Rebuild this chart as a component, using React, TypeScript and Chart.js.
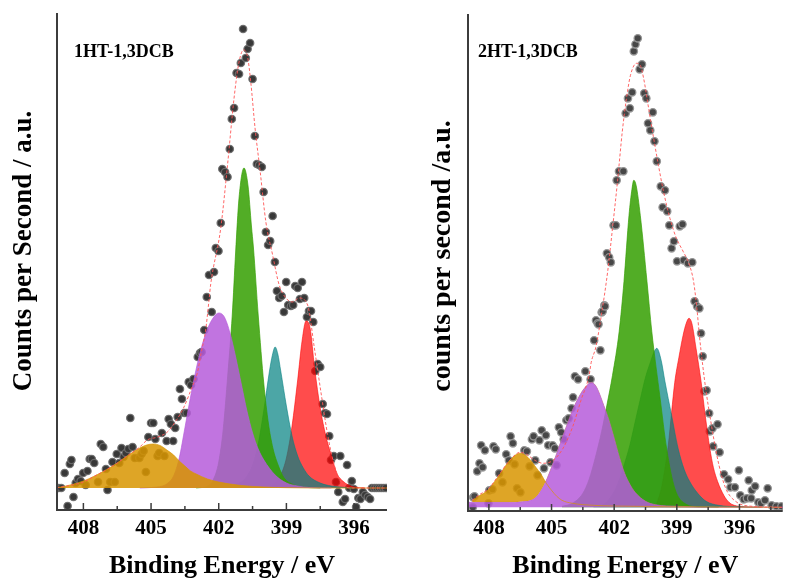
import React, { useEffect, useRef } from 'react';
import { Chart, registerables } from 'chart.js';

Chart.register(...registerables);

type Pair = [number, number];

const FONT = "'Liberation Serif', 'Times New Roman', serif";

// ---------- shared axis ticks (binding energy, eV) ----------
const TICK_VALUES = [409.5, 408, 406.5, 405, 403.5, 402, 400.5, 399, 397.5, 396, 394.5];
const MAJOR_LABELS = [408, 405, 402, 399, 396];
const X_TITLE = 'Binding Energy / eV';

// ---------- panel 1 : 1HT-1,3DCB ----------
const P1_LABEL = '1HT-1,3DCB';
const P1_YTITLE = 'Counts per Second / a.u.';
const P1_SCATTER: Pair[] = [
  [409.1, 0], [408.98, 0], [408.83, 15], [408.7, -18], [408.6, 24], [408.53, 28], [408.44, -9], [408.34, 5],
  [408.24, 9], [408.12, 7], [408.01, 15], [407.9, 3], [407.82, 17], [407.72, 29], [407.63, 29], [407.52, 25],
  [407.35, 6], [407.23, 44], [407.12, 41], [407.0, 19], [406.93, -2], [406.81, 6], [406.71, 26], [406.61, 6],
  [406.52, 34], [406.41, 25], [406.31, 40], [406.22, 31], [406.12, 35], [406.01, 39], [405.92, 70], [405.82, 41],
  [405.72, 30], [405.52, 30], [405.42, 34], [405.33, 37], [405.23, 16], [405.12, 51], [405.0, 65], [404.9, 65],
  [404.81, 49], [404.71, 32], [404.64, 35], [404.52, 55], [404.41, 32], [404.31, 47], [404.22, 69], [404.12, 64],
  [404.02, 47], [403.93, 60], [403.82, 71], [403.72, 99], [403.63, 89], [403.52, 75], [403.42, 75], [403.33, 106],
  [403.23, 103], [403.12, 109], [402.93, 131], [402.83, 135], [402.76, 136], [402.64, 158], [402.53, 191], [402.43, 213],
  [402.31, 176], [402.21, 216], [402.13, 240], [402.01, 237], [401.91, 265], [401.84, 319], [401.72, 316], [401.61, 311],
  [401.51, 339], [401.42, 369], [401.32, 380], [401.21, 415], [401.1, 414], [401.02, 425], [400.92, 459], [400.8, 430],
  [400.72, 439], [400.61, 445], [400.5, 409], [400.4, 352], [400.31, 324], [400.21, 323], [400.09, 321], [400.01, 296],
  [399.91, 256], [399.81, 243], [399.72, 247], [399.61, 272], [399.51, 226], [399.42, 197], [399.32, 190], [399.21, 192],
  [399.11, 176], [399.01, 206], [398.92, 183], [398.8, 182], [398.7, 183], [398.61, 202], [398.5, 200], [398.4, 189],
  [398.31, 206], [398.21, 190], [398.09, 171], [398.0, 177], [397.91, 177], [397.81, 166], [397.72, 117], [397.61, 124],
  [397.5, 121], [397.39, 84], [397.29, 75], [397.2, 74], [397.1, 52], [397.02, 28], [396.9, 32], [396.8, 6],
  [396.7, -4], [396.61, 32], [396.5, -14], [396.4, -11], [396.31, 23], [396.21, 0], [396.1, 7], [396.01, -1],
  [395.91, -19], [395.81, -10], [395.72, -11], [395.61, -4], [395.51, -7], [395.39, -9], [395.29, -11], [395.21, 0],
  [395.1, 0], [395.0, 0], [394.9, 0], [394.8, 0], [394.7, 0], [394.6, 0],
];
const P1_FIT: Pair[] = [
  [409.2, 0], [409, 1], [408.5, 3], [408, 6], [407.5, 12], [407, 18], [406.5, 25], [406, 33], [405.5, 41],
  [405.17, 48], [404.7, 51], [404.28, 56], [403.9, 67], [403.54, 81], [403.2, 100], [402.95, 115], [402.78, 135],
  [402.58, 158], [402.43, 188], [402.36, 203], [401.91, 260], [401.61, 323], [401.32, 390], [401.1, 426], [400.9, 438],
  [400.72, 431], [400.58, 406], [400.39, 360], [400.16, 316], [399.91, 266], [399.61, 233], [399.32, 203], [399.02, 190],
  [398.73, 186], [398.43, 190], [398.06, 183], [397.76, 140], [397.47, 96], [397.17, 53], [396.88, 23], [396.58, 6],
  [396.1, 0], [394.5, 0],
];
const P1_YELLOW: Pair[] = [
  [409.2, 0.5], [409, 1], [408.5, 3.5], [408, 7], [407.5, 12], [407, 18], [406.5, 25], [406, 33], [405.5, 40],
  [405.2, 43], [404.9, 44], [404.6, 42.5], [404.3, 38], [404, 33], [403.75, 27], [403.5, 22], [403.25, 17], [403, 14],
  [402.5, 9], [402, 6], [401.5, 4], [401, 2.5], [400, 1], [399, 0.3], [397, 0], [394.5, 0],
];
const P1_PURPLE: Pair[] = [
  [405.5, 0], [405, 0.5], [404.5, 2], [404.25, 5], [404, 12], [403.75, 30], [403.5, 60], [403.25, 91], [403, 119],
  [402.75, 142], [402.5, 159], [402.25, 170], [402, 175], [401.75, 171], [401.5, 155], [401.25, 131], [401, 104],
  [400.75, 77], [400.5, 55], [400.25, 39], [400, 28], [399.5, 13], [399, 5], [398.5, 2], [398, 0.5], [397, 0],
];
const P1_GREEN: Pair[] = [
  [403, 0], [402.5, 2], [402.25, 8], [402, 26], [401.8, 59], [401.6, 113], [401.4, 173], [401.25, 236], [401.1, 290],
  [400.88, 320], [400.7, 302], [400.55, 262], [400.46, 240], [400.25, 173], [400, 104], [399.8, 65], [399.6, 40],
  [399.35, 22], [399.1, 10], [398.75, 4], [398.25, 1], [397.5, 0],
];
const P1_TEAL: Pair[] = [
  [402, 1], [401.5, 3], [401, 6], [400.75, 12], [400.5, 23], [400.25, 44], [400, 78], [399.75, 117], [399.62, 133],
  [399.5, 141], [399.38, 134], [399.25, 117], [399, 82], [398.75, 52], [398.5, 32], [398.25, 20], [398, 12],
  [397.5, 5], [397, 2], [396, 0],
];
const P1_RED: Pair[] = [
  [399.75, 2], [399.5, 5], [399.25, 13], [399, 30], [398.75, 62], [398.5, 108], [398.3, 148], [398.13, 167],
  [397.95, 160], [397.75, 120], [397.5, 80], [397.25, 52], [397, 32], [396.75, 14], [396.5, 7], [396.25, 3], [396, 1], [395.5, 0],
];

// ---------- panel 2 : 2HT-1,3DCB ----------
const P2_LABEL = '2HT-1,3DCB';
const P2_YTITLE = 'counts per second /a.u.';
const P2_SCATTER: Pair[] = [
  [408.77, 0], [408.75, 10], [408.69, 11], [408.56, 36], [408.45, 44], [408.37, 62], [408.3, 40], [408.19, 57],
  [408.02, 4], [407.98, 17], [407.83, 18], [407.78, 61], [407.67, 58], [407.51, 34], [407.35, 25], [407.17, 53],
  [407.04, 47], [406.96, 71], [406.85, 64], [406.77, 43], [406.65, 19], [406.49, 15], [406.3, 57], [406.18, 56],
  [406.05, 41], [405.94, 68], [405.86, 71], [405.78, 47], [405.67, 32], [405.58, 67], [405.47, 77], [405.36, 39],
  [405.27, 72], [405.16, 62], [405.05, 45], [404.95, 62], [404.84, 59], [404.76, 42], [404.65, 80], [404.54, 75],
  [404.42, 68], [404.29, 87], [404.18, 89], [404.04, 99], [403.97, 110], [403.88, 131], [403.73, 128], [403.38, 136],
  [403.13, 128], [402.96, 167], [402.87, 187], [402.79, 184], [402.75, 183], [402.66, 157], [402.6, 195], [402.55, 196],
  [402.47, 202], [402.44, 201], [402.35, 254], [402.24, 250], [402.16, 245], [402.03, 282], [401.92, 282], [401.88, 327],
  [401.77, 336], [401.56, 336], [401.45, 394], [401.34, 409], [401.25, 399], [401.14, 415], [401.06, 456], [400.98, 463],
  [400.87, 469], [400.78, 438], [400.67, 443], [400.56, 414], [400.46, 409], [400.38, 384], [400.27, 377], [400.15, 395],
  [400.07, 366], [399.96, 346], [399.77, 321], [399.68, 300], [399.57, 317], [399.46, 296], [399.36, 282], [399.25, 259],
  [399.14, 266], [398.99, 246], [398.86, 281], [398.73, 283], [398.67, 247], [398.47, 244], [398.26, 245], [398.15, 206],
  [398.03, 201], [397.92, 199], [397.84, 174], [397.76, 151], [397.68, 116], [397.57, 117], [397.45, 94], [397.42, 76],
  [397.29, 79], [397.26, 61], [397.05, 83], [396.95, 55], [396.74, 33], [396.54, 28], [396.43, 20], [396.22, 20],
  [396.03, 37], [395.96, 12], [395.8, 8], [395.64, 9], [395.56, 27], [395.44, 9], [395.41, 17], [395.25, 21],
  [395.1, 5], [394.97, 4], [394.78, 7], [394.65, 19], [394.46, 2], [394.23, 1], [393.99, 1],
];
const P2_FIT: Pair[] = [
  [408.8, 7], [408.5, 12], [408, 19], [407.5, 33], [407, 47], [406.5, 55], [406.2, 53], [405.8, 47], [405.4, 44],
  [404.92, 47], [404.45, 59], [403.98, 81], [403.59, 107], [403.2, 132], [403.1, 145], [402.88, 160], [402.63, 190],
  [402.31, 236], [402.08, 279], [401.84, 326], [401.61, 376], [401.41, 409], [401.22, 432], [400.93, 444], [400.75, 442],
  [400.59, 429], [400.35, 399], [400.11, 369], [399.88, 342], [399.64, 316], [399.33, 289], [399.02, 269], [398.7, 256],
  [398.39, 242], [398.2, 226], [398.04, 199], [397.92, 172], [397.76, 142], [397.6, 116], [397.42, 92], [397.21, 66],
  [396.98, 42], [396.66, 19], [396.19, 6], [395.4, 1], [393.9, 0],
];
const P2_YELLOW: Pair[] = [
  [408.8, 6.6], [408.5, 11], [408.25, 14], [408, 18], [407.75, 25], [407.5, 32], [407.25, 40], [407, 47], [406.75, 52],
  [406.5, 54], [406.25, 52], [406, 47], [405.75, 40], [405.5, 33], [405.25, 24], [405, 17], [404.75, 11], [404.5, 7],
  [404, 4], [403, 2], [401, 1], [399, 0.5], [394, 0],
];
const P2_PURPLE: Pair[] = [
  [409, 5], [408, 5], [407, 5], [406.5, 5.5], [406, 7], [405.75, 10], [405.5, 17], [405.25, 27], [405, 40], [404.75, 54],
  [404.5, 69], [404.25, 83], [404, 97], [403.75, 108], [403.5, 117], [403.25, 123], [403.1, 125], [402.9, 122],
  [402.75, 116], [402.5, 102], [402.25, 87], [402, 69], [401.75, 50], [401.5, 34], [401.25, 23], [401, 15], [400.5, 6],
  [400, 2.5], [399, 1], [397, 0], [393.9, 0],
];
const P2_GREEN: Pair[] = [
  [404.5, 1], [404, 4], [403.5, 14], [403.2, 28], [402.9, 50], [402.6, 76], [402.35, 102], [402.08, 132], [401.76, 176],
  [401.53, 226], [401.29, 292], [401.15, 318], [401.06, 327], [400.95, 322], [400.75, 292], [400.43, 226], [400.2, 176],
  [399.8, 109], [399.49, 59], [399.1, 19], [398.55, 3], [398, 0.5], [397, 0],
];
const P2_TEAL: Pair[] = [
  [403, 1], [402.5, 3], [402, 16], [401.75, 28], [401.5, 44], [401.25, 62], [401, 85], [400.75, 108], [400.5, 130],
  [400.25, 146], [400.1, 155], [399.96, 159], [399.75, 147], [399.57, 126], [399.25, 92], [398.94, 59], [398.65, 38],
  [398.39, 26], [398, 14], [397.6, 6], [397, 2], [396, 0.5], [395, 0],
];
const P2_RED: Pair[] = [
  [400.5, 0.5], [400, 3], [399.88, 9], [399.75, 18], [399.6, 35], [399.41, 62], [399.25, 95], [399.1, 125], [398.9, 150],
  [398.7, 172], [398.55, 184], [398.42, 189], [398.28, 184], [398.08, 159], [397.84, 126], [397.64, 92], [397.42, 59],
  [397.25, 40], [397.05, 26], [396.75, 12], [396.5, 5], [396.25, 2], [396, 1], [395, 0],
];

// ---------- styles ----------
const C_YELLOW = 'rgba(216,149,0,0.85)';
const C_PURPLE = 'rgba(182,92,219,0.85)';
const C_GREEN = 'rgba(52,159,0,0.85)';
const C_TEAL = 'rgba(0,128,128,0.7)';
const C_RED = 'rgba(255,0,0,0.7)';

interface Panel {
  label: string;
  yTitle: string;
  scatter: Pair[];
  fit: Pair[];
  yellow: Pair[];
  purple: Pair[];
  green: Pair[];
  teal: Pair[];
  red: Pair[];
  yellowOnPurple: boolean;
  xMin: number; xMax: number; yMin: number; yMax: number;
  padTop: number; padRight: number; yAxisWidth: number; xAxisHeight: number;
  tickPad: number; labelDx: number; labelY: number;
  yTitleX: number; yTitleY: number; yTitleSize: number;
  dotFill: string; dotEdge: string;
}

const PANEL1: Panel = {
  label: P1_LABEL, yTitle: P1_YTITLE, scatter: P1_SCATTER, fit: P1_FIT,
  yellow: P1_YELLOW, purple: P1_PURPLE, green: P1_GREEN, teal: P1_TEAL, red: P1_RED, yellowOnPurple: false,
  xMin: 394.54, xMax: 409.17, yMin: -22, yMax: 475,
  padTop: 13, padRight: 13, yAxisWidth: 57, xAxisHeight: 70,
  tickPad: 8.5, labelDx: 17, labelY: 56.5,
  yTitleX: 24, yTitleY: 251, yTitleSize: 27,
  dotFill: '#383838', dotEdge: 'rgba(110,110,110,0.9)',
};
const PANEL2: Panel = {
  label: P2_LABEL, yTitle: P2_YTITLE, scatter: P2_SCATTER, fit: P2_FIT,
  yellow: P2_YELLOW, purple: P2_PURPLE, green: P2_GREEN, teal: P2_TEAL, red: P2_RED, yellowOnPurple: true,
  xMin: 393.93, xMax: 409.0, yMin: -3.7, yMax: 493.3,
  padTop: 14, padRight: 0, yAxisWidth: 68, xAxisHeight: 69,
  tickPad: 7.5, labelDx: 10, labelY: 56.5,
  yTitleX: 43, yTitleY: 256, yTitleSize: 28,
  dotFill: '#474747', dotEdge: 'rgba(150,150,150,0.95)',
};

const pts = (arr: Pair[]) => arr.map(([x, y]) => ({ x, y }));

const decorPlugin = {
  id: 'xpsDecor',
  afterDraw(chart: any, _args: any, opts: any) {
    const { ctx, chartArea } = chart;
    const { left, right, top, bottom } = chartArea;
    const xs = chart.scales.x;
    ctx.save();
    ctx.strokeStyle = '#3c3c3c';
    ctx.lineWidth = 2;
    ctx.beginPath();
    ctx.moveTo(left, top);
    ctx.lineTo(left, bottom);
    ctx.lineTo(right, bottom);
    ctx.stroke();
    ctx.lineWidth = 1.5;
    for (const t of xs.ticks) {
      const px = xs.getPixelForValue(t.value);
      const len = MAJOR_LABELS.includes(t.value) ? 7 : 4;
      ctx.beginPath();
      ctx.moveTo(px, bottom);
      ctx.lineTo(px, bottom - len);
      ctx.stroke();
    }
    ctx.fillStyle = '#000';
    ctx.font = `bold 18px ${FONT}`;
    ctx.textAlign = 'left';
    ctx.textBaseline = 'alphabetic';
    ctx.fillText(opts.label, left + opts.labelDx, opts.labelY);
    ctx.translate(opts.yTitleX, opts.yTitleY);
    ctx.rotate(-Math.PI / 2);
    ctx.font = `bold ${opts.yTitleSize}px ${FONT}`;
    ctx.textAlign = 'center';
    ctx.textBaseline = 'middle';
    ctx.fillText(opts.yTitle, 0, 0);
    ctx.restore();
  },
};

function comp(arr: Pair[], color: string, order: number, fill: any) {
  return {
    data: pts(arr),
    borderColor: color,
    backgroundColor: color,
    borderWidth: 0.8,
    pointRadius: 0,
    fill,
    order,
    cubicInterpolationMode: 'monotone',
  };
}

function makeChart(canvas: HTMLCanvasElement, p: Panel) {
  const datasets: any[] = [
    {
      data: pts(p.fit),
      borderColor: 'rgba(255,85,85,0.9)',
      borderWidth: 1,
      borderDash: [3, 2],
      pointRadius: 0,
      fill: false,
      order: 0,
      cubicInterpolationMode: 'monotone',
    },
    comp(p.yellow, C_YELLOW, 1,
      p.yellowOnPurple ? { target: 2, above: C_YELLOW, below: 'rgba(0,0,0,0)' } : 'origin'),
    comp(p.purple, C_PURPLE, 2, 'origin'),
    comp(p.green, C_GREEN, 3, 'origin'),
    comp(p.teal, C_TEAL, 4, 'origin'),
    comp(p.red, C_RED, 5, 'origin'),
    {
      data: pts(p.scatter),
      showLine: false,
      pointRadius: 3.7,
      pointBackgroundColor: p.dotFill,
      pointBorderColor: p.dotEdge,
      pointBorderWidth: 1.3,
      fill: false,
      order: 6,
    },
  ];
  return new Chart(canvas, {
    type: 'line',
    data: { datasets },
    plugins: [decorPlugin as any],
    options: {
      animation: false,
      responsive: false,
      maintainAspectRatio: false,
      layout: { padding: { left: 0, right: p.padRight, top: p.padTop, bottom: 0 } },
      plugins: {
        legend: { display: false },
        tooltip: { enabled: false },
        xpsDecor: {
          label: p.label, labelDx: p.labelDx, labelY: p.labelY,
          yTitle: p.yTitle, yTitleX: p.yTitleX, yTitleY: p.yTitleY, yTitleSize: p.yTitleSize,
        },
      } as any,
      scales: {
        x: {
          type: 'linear',
          reverse: true,
          min: p.xMin,
          max: p.xMax,
          grid: { display: false, drawTicks: false },
          border: { display: false },
          afterBuildTicks: (s: any) => {
            s.ticks = TICK_VALUES.filter((v) => v >= p.xMin && v <= p.xMax).map((v) => ({ value: v }));
          },
          afterFit: (s: any) => { s.height = p.xAxisHeight; },
          ticks: {
            autoSkip: false,
            maxRotation: 0,
            padding: p.tickPad,
            color: '#000',
            font: { family: FONT, size: 21, weight: 'bold', lineHeight: 1 },
            callback: (v: any) => (MAJOR_LABELS.includes(Number(v)) ? String(v) : ''),
          },
          title: {
            display: true,
            text: X_TITLE,
            color: '#000',
            font: { family: FONT, size: 26, weight: 'bold', lineHeight: 1 },
            padding: { top: 0, bottom: 1 },
          },
        },
        y: {
          type: 'linear',
          min: p.yMin,
          max: p.yMax,
          grid: { display: false, drawTicks: false },
          border: { display: false },
          ticks: { display: false },
          afterFit: (s: any) => { s.width = p.yAxisWidth; },
        },
      },
    } as any,
  });
}

export default function App() {
  const r1 = useRef<HTMLCanvasElement>(null);
  const r2 = useRef<HTMLCanvasElement>(null);
  useEffect(() => {
    const c1 = makeChart(r1.current!, PANEL1);
    const c2 = makeChart(r2.current!, PANEL2);
    return () => {
      c1.destroy();
      c2.destroy();
    };
  }, []);
  return (
    <div style={{ position: 'absolute', left: 0, top: 0, width: 788, height: 580, background: '#fff', overflow: 'hidden' }}>
      <canvas ref={r1} width={400} height={580} style={{ position: 'absolute', left: 0, top: 0, width: 400, height: 580 }} />
      <canvas ref={r2} width={388} height={580} style={{ position: 'absolute', left: 400, top: 0, width: 388, height: 580 }} />
    </div>
  );
}
